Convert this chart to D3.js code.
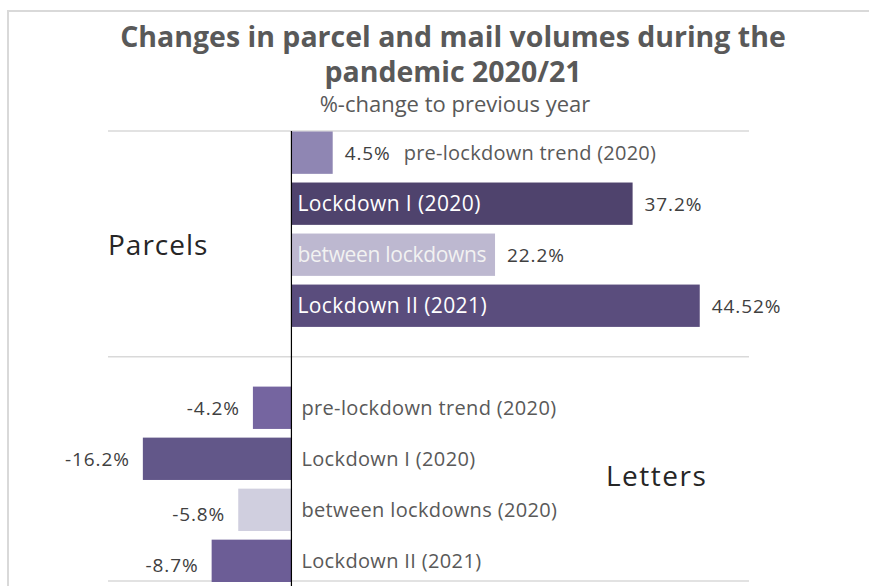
<!DOCTYPE html>
<html>
<head>
<meta charset="utf-8">
<script src="https://cdn.jsdelivr.net/npm/d3@7"></script>
<style>
  body { margin: 0; background: #fff; }
  text { font-family: "Open Sans", sans-serif; }
</style>
</head>
<body>
<svg id="chart" width="869" height="586"></svg>
<script>
// rows: 4 parcel bars, a blank spacer row, 4 letter bars
const rows = ["p0", "p1", "p2", "p3", "gap", "l0", "l1", "l2", "l3"];
const parcelLabels = ["pre-lockdown trend (2020)", "Lockdown I (2020)", "between lockdowns", "Lockdown II (2021)"];
const parcelValues = [4.5, 37.2, 22.2, 44.52];
const parcelText = ["4.5%", "37.2%", "22.2%", "44.52%"];
const letterLabels = ["pre-lockdown trend (2020)", "Lockdown I (2020)", "between lockdowns (2020)", "Lockdown II (2021)"];
const letterValues = [-4.2, -16.2, -5.8, -8.7];
const letterText = ["-4.2%", "-16.2%", "-5.8%", "-8.7%"];
const parcelColors = ["#8f86b3", "#4f436d", "#bdb8d0", "#5a4d7d"];
const letterColors = ["#7565a0", "#625789", "#d0cfdf", "#6c5d96"];

const svg = d3.select("#chart");

// frame
svg.append("path")
    .attr("d", "M8,586 V11 H869")
    .attr("fill", "none")
    .attr("stroke", "#d9d9d9")
    .attr("stroke-width", 2);

// title
svg.append("text").attr("x", 453).attr("y", 47).attr("text-anchor", "middle")
    .attr("font-size", 28.5).attr("font-weight", "bold").attr("fill", "#595959")
    .text("Changes in parcel and mail volumes during the");
svg.append("text").attr("x", 453).attr("y", 82).attr("text-anchor", "middle")
    .attr("font-size", 28.5).attr("font-weight", "bold").attr("fill", "#595959")
    .text("pandemic 2020/21");
svg.append("text").attr("x", 455).attr("y", 112).attr("text-anchor", "middle")
    .attr("font-size", 22).attr("fill", "#595959")
    .text("%-change to previous year");

const x = d3.scaleLinear().domain([-20, 50]).range([108, 750]);
const y = d3.scaleBand().domain(rows).range([131.5, 582]).paddingInner(0.17).paddingOuter(0);

const parcels = parcelValues.map((v, i) => ({ key: rows[i], v, label: parcelLabels[i], txt: parcelText[i], color: parcelColors[i] }));
const letters = letterValues.map((v, i) => ({ key: rows[i + 5], v, label: letterLabels[i], txt: letterText[i], color: letterColors[i] }));

// gridlines: top, separator, bottom
const sepY = (y("p3") + y.bandwidth() + y("l0")) / 2;
[131, sepY, 581].forEach(gy => {
    svg.append("line").attr("x1", x(-20)).attr("x2", x(50) - 1)
        .attr("y1", gy).attr("y2", gy)
        .attr("stroke", "#d9d9d9").attr("stroke-width", 1.3);
});

// bars
svg.selectAll("rect.bar")
    .data(parcels.concat(letters))
    .join("rect")
    .attr("class", "bar")
    .attr("x", d => x(Math.min(0, d.v)))
    .attr("y", d => y(d.key))
    .attr("width", d => Math.abs(x(d.v) - x(0)))
    .attr("height", y.bandwidth())
    .attr("fill", d => d.color);

// zero axis
svg.append("line").attr("x1", x(0)).attr("x2", x(0)).attr("y1", 131).attr("y2", 586)
    .attr("stroke", "#000").attr("stroke-width", 1.2);

const mid = d => y(d.key) + y.bandwidth() / 2 + 7;

// parcel labels
svg.selectAll("text.pval")
    .data(parcels)
    .join("text")
    .attr("class", "pval")
    .attr("x", d => x(d.v) + 12)
    .attr("y", mid)
    .attr("font-size", 19).attr("letter-spacing", 0.9).attr("fill", "#404040")
    .text(d => d.txt);

svg.selectAll("text.pcat")
    .data(parcels)
    .join("text")
    .attr("class", "pcat")
    .attr("x", (d, i) => i === 0 ? x(d.v) + 71 : x(0) + 6)
    .attr("y", mid)
    .attr("font-size", (d, i) => i === 0 ? 20 : 21)
    .attr("letter-spacing", (d, i) => i === 0 ? 0.25 : (i === 2 ? -0.3 : 0.4))
    .attr("fill", (d, i) => i === 0 ? "#595959" : (i === 2 ? "#f2f2f2" : "#fff"))
    .text(d => d.label);

// letter labels
svg.selectAll("text.lval")
    .data(letters)
    .join("text")
    .attr("class", "lval")
    .attr("x", d => x(d.v) - 13)
    .attr("y", (d, i) => mid(d) + (i >= 2 ? 4 : 0))
    .attr("text-anchor", "end")
    .attr("font-size", 19).attr("letter-spacing", 0.9).attr("fill", "#404040")
    .text(d => d.txt);

svg.selectAll("text.lcat")
    .data(letters)
    .join("text")
    .attr("class", "lcat")
    .attr("x", x(0) + 10)
    .attr("y", mid)
    .attr("font-size", 20).attr("letter-spacing", 0.35).attr("fill", "#595959")
    .text(d => d.label);

// group labels
svg.append("text").attr("x", 108).attr("y", 255)
    .attr("font-size", 28).attr("letter-spacing", 1).attr("fill", "#262626").text("Parcels");
svg.append("text").attr("x", 606).attr("y", 486)
    .attr("font-size", 28).attr("letter-spacing", 1.5).attr("fill", "#262626").text("Letters");
</script>
</body>
</html>
